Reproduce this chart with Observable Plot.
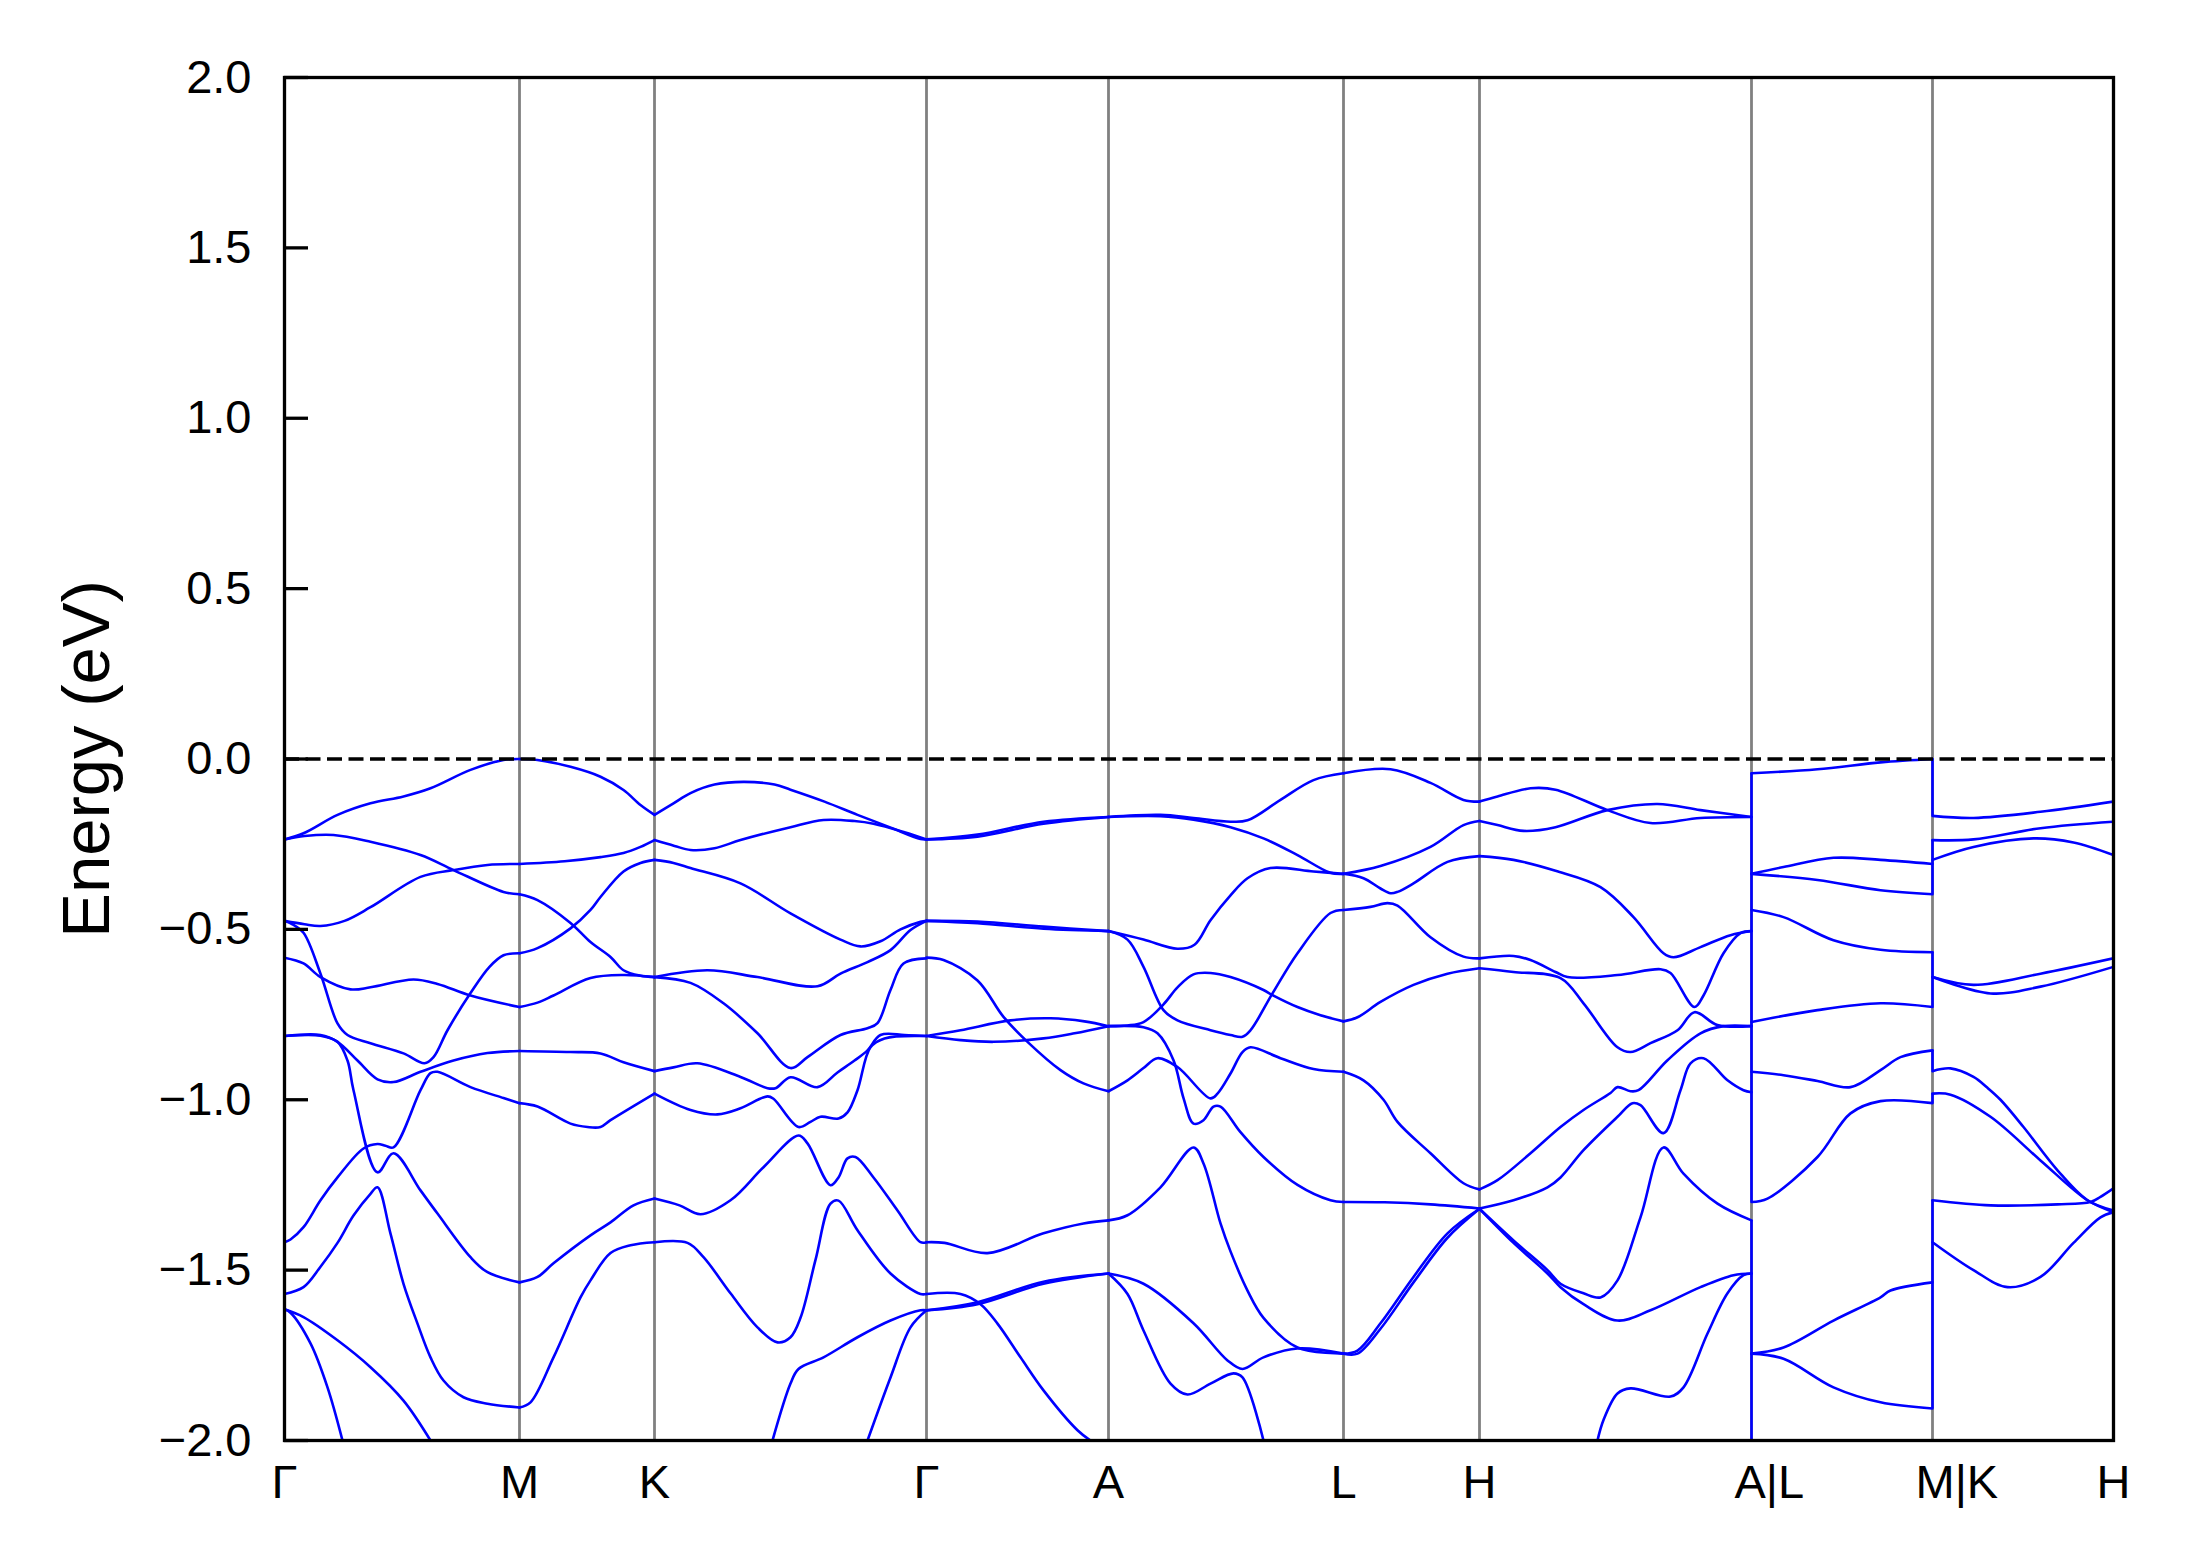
<!DOCTYPE html>
<html>
<head>
<meta charset="utf-8">
<script src="https://cdn.jsdelivr.net/npm/d3@7"></script>
<script src="https://cdn.jsdelivr.net/npm/@observablehq/plot@0.6"></script>
<style>
  html, body { margin: 0; padding: 0; background: #fff; }
  svg { display: block; }
</style>
</head>
<body>
<div id="chart"></div>
<script>
// High-symmetry k-path positions (path distance, arbitrary units) and labels
const kTicks  = [0, 235, 370, 642, 824, 1059, 1195, 1467, 1648, 1829];
const kLabels = ["Γ", "M", "K", "Γ", "A", "L", "H", "A|L", "M|K", "H"];
const yTicks  = [-2, -1.5, -1, -0.5, 0, 0.5, 1, 1.5, 2];
const fermiLevel = 0;

// Band pieces per path segment: each piece is a list of [k, energy (eV)]
const gammaM = [
  [[0,-0.236],[19,-0.218],[53,-0.164],[86,-0.13],[119,-0.11],[146,-0.086],[186,-0.032],[219,-0.003],[235,0]],
  [[0,-0.236],[20,-0.226],[49,-0.223],[86,-0.243],[136,-0.282],[169,-0.326],[219,-0.39],[235,-0.397]],
  [[0,-0.475],[20,-0.485],[36,-0.49],[60,-0.475],[86,-0.435],[136,-0.346],[169,-0.326],[203,-0.311],[235,-0.308]],
  [[0,-0.475],[8,-0.485],[19,-0.51],[36,-0.63],[53,-0.776],[63,-0.81],[86,-0.834],[119,-0.864],[140,-0.893],[149,-0.875],[163,-0.796],[186,-0.687],[205,-0.61],[219,-0.576],[235,-0.57]],
  [[0,-0.583],[19,-0.6],[36,-0.64],[66,-0.676],[86,-0.67],[129,-0.647],[153,-0.66],[186,-0.694],[235,-0.728]],
  [[0,-0.813],[36,-0.81],[53,-0.83],[73,-0.885],[93,-0.94],[109,-0.948],[136,-0.918],[169,-0.885],[203,-0.863],[235,-0.857]],
  [[0,-0.813],[36,-0.812],[53,-0.83],[63,-0.885],[69,-0.972],[93,-1.213],[109,-1.157],[136,-1.266],[153,-1.334],[186,-1.462],[203,-1.506],[235,-1.536]],
  [[0,-1.418],[6,-1.41],[19,-1.374],[36,-1.295],[53,-1.228],[79,-1.143],[93,-1.13],[101,-1.135],[109,-1.14],[136,-0.972],[146,-0.922],[153,-0.918],[186,-0.963],[219,-0.995],[235,-1.01]],
  [[0,-1.57],[19,-1.55],[36,-1.49],[53,-1.42],[69,-1.34],[86,-1.276],[93,-1.257],[106,-1.393],[119,-1.54],[133,-1.657],[146,-1.756],[159,-1.824],[179,-1.873],[203,-1.892],[235,-1.903]],
  [[0,-1.615],[19,-1.638],[53,-1.706],[86,-1.785],[119,-1.883],[146,-2.0]],
  [[0,-1.615],[6,-1.625],[26,-1.715],[43,-1.844],[58,-2.0]]
];
const mK = [
  [[235,0],[253,-0.003],[286,-0.023],[316,-0.052],[339,-0.091],[356,-0.135],[370,-0.164]],
  [[235,-0.308],[280,-0.3],[316,-0.288],[339,-0.276],[356,-0.258],[370,-0.238]],
  [[235,-0.397],[253,-0.414],[286,-0.481],[306,-0.537],[326,-0.581],[339,-0.62],[356,-0.636],[370,-0.64]],
  [[235,-0.57],[253,-0.555],[286,-0.497],[306,-0.443],[316,-0.405],[339,-0.33],[356,-0.305],[370,-0.296]],
  [[235,-0.728],[253,-0.715],[269,-0.694],[306,-0.643],[339,-0.634],[370,-0.64]],
  [[235,-0.857],[286,-0.86],[316,-0.864],[339,-0.89],[370,-0.916]],
  [[235,-1.01],[253,-1.02],[286,-1.07],[303,-1.08],[316,-1.08],[326,-1.06],[370,-0.982]],
  [[235,-1.536],[253,-1.52],[269,-1.48],[306,-1.398],[326,-1.36],[349,-1.31],[370,-1.29]],
  [[235,-1.903],[246,-1.888],[269,-1.756],[296,-1.58],[306,-1.53],[326,-1.45],[346,-1.427],[370,-1.418]]
];
const kGamma = [
  [[370,-0.164],[389,-0.13],[406,-0.1],[430,-0.075],[459,-0.067],[490,-0.075],[506,-0.09],[540,-0.125],[573,-0.164],[605,-0.2],[636,-0.235],[642,-0.236]],
  [[370,-0.238],[390,-0.255],[406,-0.267],[430,-0.262],[456,-0.238],[506,-0.2],[539,-0.179],[570,-0.182],[589,-0.19],[620,-0.215],[642,-0.236]],
  [[370,-0.296],[389,-0.305],[406,-0.32],[456,-0.365],[506,-0.453],[556,-0.53],[576,-0.55],[596,-0.535],[616,-0.5],[636,-0.478],[642,-0.475]],
  [[370,-0.64],[423,-0.62],[473,-0.64],[533,-0.667],[556,-0.63],[583,-0.596],[606,-0.561],[626,-0.502],[642,-0.475]],
  [[370,-0.64],[406,-0.657],[439,-0.717],[473,-0.805],[506,-0.907],[523,-0.875],[556,-0.81],[583,-0.79],[593,-0.775],[606,-0.678],[619,-0.6],[642,-0.585]],
  [[370,-0.916],[389,-0.905],[413,-0.893],[456,-0.933],[483,-0.966],[491,-0.966],[506,-0.934],[533,-0.963],[553,-0.92],[570,-0.885],[583,-0.855],[596,-0.81],[620,-0.81],[642,-0.813]],
  [[370,-0.982],[406,-1.03],[433,-1.043],[456,-1.025],[483,-0.99],[489,-0.997],[514,-1.08],[526,-1.065],[536,-1.05],[554,-1.055],[563,-1.037],[573,-0.972],[586,-0.846],[600,-0.82],[642,-0.813]],
  [[370,-1.29],[395,-1.31],[416,-1.336],[446,-1.295],[479,-1.198],[514,-1.105],[523,-1.128],[546,-1.251],[554,-1.228],[563,-1.172],[571,-1.168],[589,-1.228],[613,-1.325],[636,-1.418],[642,-1.418]],
  [[370,-1.418],[403,-1.42],[419,-1.462],[446,-1.568],[473,-1.668],[493,-1.712],[506,-1.697],[516,-1.64],[531,-1.47],[546,-1.305],[554,-1.296],[573,-1.383],[606,-1.51],[636,-1.57],[642,-1.57]],
  [[488,-2.0],[506,-1.833],[514,-1.79],[539,-1.756],[573,-1.697],[606,-1.648],[636,-1.618],[642,-1.618]],
  [[583,-2.0],[606,-1.815],[626,-1.668],[642,-1.618]]
];
const gammaA = [
  [[642,-0.236],[693,-0.228],[759,-0.19],[824,-0.17]],
  [[642,-0.236],[693,-0.222],[759,-0.184],[824,-0.17]],
  [[642,-0.475],[693,-0.477],[759,-0.492],[824,-0.505]],
  [[642,-0.475],[693,-0.482],[759,-0.498],[824,-0.505]],
  [[642,-0.583],[659,-0.59],[693,-0.65],[719,-0.757],[743,-0.83],[776,-0.913],[799,-0.952],[824,-0.975]],
  [[642,-0.813],[676,-0.796],[726,-0.767],[766,-0.761],[800,-0.77],[824,-0.784]],
  [[642,-0.813],[676,-0.825],[709,-0.83],[759,-0.82],[790,-0.805],[824,-0.784]],
  [[642,-1.418],[660,-1.42],[703,-1.45],[759,-1.392],[799,-1.363],[824,-1.354]],
  [[642,-1.57],[676,-1.57],[696,-1.6],[713,-1.657],[736,-1.756],[759,-1.853],[793,-1.97],[806,-2.0]],
  [[642,-1.618],[693,-1.6],[759,-1.54],[824,-1.51]],
  [[642,-1.618],[693,-1.594],[759,-1.534],[824,-1.51]]
];
const aL = [
  [[824,-0.17],[876,-0.164],[909,-0.173],[946,-0.184],[963,-0.18],[996,-0.12],[1029,-0.062],[1059,-0.042]],
  [[824,-0.17],[876,-0.168],[909,-0.178],[946,-0.2],[979,-0.233],[1013,-0.282],[1046,-0.334],[1059,-0.337]],
  [[824,-0.505],[859,-0.53],[893,-0.557],[910,-0.545],[926,-0.473],[946,-0.4],[963,-0.35],[986,-0.32],[1029,-0.33],[1059,-0.337]],
  [[824,-0.505],[843,-0.53],[859,-0.61],[879,-0.737],[893,-0.767],[926,-0.796],[946,-0.81],[958,-0.815],[966,-0.796],[988,-0.688],[1013,-0.57],[1046,-0.452],[1059,-0.443]],
  [[824,-0.784],[843,-0.782],[859,-0.772],[879,-0.72],[893,-0.67],[909,-0.632],[926,-0.628],[946,-0.64],[979,-0.678],[988,-0.693],[1013,-0.728],[1036,-0.752],[1059,-0.77]],
  [[824,-0.784],[859,-0.787],[873,-0.805],[889,-0.884],[899,-0.995],[909,-1.07],[919,-1.06],[929,-1.02],[936,-1.02],[956,-1.095],[979,-1.168],[1013,-1.25],[1046,-1.295],[1059,-1.3]],
  [[824,-0.975],[843,-0.943],[859,-0.907],[873,-0.878],[893,-0.904],[926,-0.996],[933,-0.982],[946,-0.923],[958,-0.86],[966,-0.846],[996,-0.878],[1029,-0.91],[1059,-0.918]],
  [[824,-1.354],[843,-1.339],[876,-1.257],[909,-1.14],[919,-1.187],[936,-1.363],[946,-1.445],[963,-1.56],[979,-1.64],[1013,-1.727],[1059,-1.745]],
  [[824,-1.51],[859,-1.54],[909,-1.656],[943,-1.765],[958,-1.79],[979,-1.756],[1013,-1.73],[1059,-1.745]],
  [[824,-1.51],[843,-1.57],[859,-1.677],[886,-1.833],[903,-1.865],[926,-1.833],[949,-1.803],[958,-1.815],[979,-2.0]]
];
const lH = [
  [[1059,-0.042],[1106,-0.03],[1146,-0.07],[1179,-0.12],[1195,-0.125]],
  [[1059,-0.337],[1096,-0.314],[1146,-0.258],[1179,-0.194],[1195,-0.182]],
  [[1059,-0.337],[1079,-0.35],[1096,-0.38],[1106,-0.394],[1113,-0.39],[1129,-0.365],[1163,-0.302],[1195,-0.285]],
  [[1059,-0.443],[1086,-0.434],[1103,-0.423],[1113,-0.43],[1146,-0.523],[1179,-0.58],[1195,-0.585]],
  [[1059,-0.77],[1073,-0.758],[1096,-0.713],[1129,-0.663],[1163,-0.63],[1195,-0.614]],
  [[1059,-0.918],[1079,-0.943],[1099,-1.0],[1113,-1.065],[1146,-1.157],[1179,-1.245],[1195,-1.263]],
  [[1059,-1.3],[1100,-1.301],[1146,-1.307],[1195,-1.319]],
  [[1059,-1.745],[1073,-1.736],[1096,-1.656],[1129,-1.52],[1163,-1.392],[1195,-1.32]],
  [[1059,-1.745],[1073,-1.745],[1096,-1.672],[1129,-1.536],[1163,-1.405],[1195,-1.32]]
];
const hA = [
  [[1195,-0.125],[1213,-0.11],[1246,-0.086],[1271,-0.09],[1323,-0.15],[1366,-0.188],[1416,-0.173],[1467,-0.17]],
  [[1195,-0.182],[1213,-0.194],[1239,-0.211],[1271,-0.2],[1323,-0.15],[1373,-0.132],[1416,-0.15],[1467,-0.17]],
  [[1195,-0.285],[1229,-0.296],[1271,-0.328],[1316,-0.376],[1349,-0.464],[1379,-0.57],[1389,-0.582],[1416,-0.552],[1446,-0.517],[1467,-0.505]],
  [[1195,-0.585],[1229,-0.578],[1246,-0.59],[1271,-0.625],[1283,-0.64],[1333,-0.634],[1376,-0.617],[1386,-0.628],[1410,-0.728],[1419,-0.694],[1439,-0.57],[1456,-0.511],[1467,-0.505]],
  [[1195,-0.614],[1229,-0.625],[1276,-0.643],[1299,-0.717],[1333,-0.846],[1346,-0.86],[1366,-0.834],[1393,-0.796],[1410,-0.743],[1433,-0.781],[1467,-0.784]],
  [[1195,-1.263],[1213,-1.236],[1246,-1.157],[1276,-1.08],[1299,-1.03],[1326,-0.98],[1333,-0.963],[1346,-0.975],[1354,-0.972],[1383,-0.884],[1416,-0.805],[1439,-0.784],[1467,-0.784]],
  [[1195,-1.319],[1229,-1.295],[1263,-1.257],[1276,-1.228],[1299,-1.148],[1333,-1.05],[1348,-1.01],[1356,-1.016],[1379,-1.098],[1396,-0.972],[1406,-0.893],[1419,-0.878],[1443,-0.943],[1459,-0.972],[1467,-0.978]],
  [[1195,-1.32],[1229,-1.413],[1263,-1.5],[1276,-1.54],[1299,-1.568],[1316,-1.58],[1333,-1.53],[1356,-1.345],[1379,-1.14],[1399,-1.217],[1433,-1.305],[1467,-1.354]],
  [[1195,-1.32],[1229,-1.42],[1263,-1.51],[1276,-1.55],[1299,-1.6],[1333,-1.648],[1366,-1.618],[1416,-1.55],[1449,-1.515],[1467,-1.51]],
  [[1313,-2.0],[1319,-1.94],[1333,-1.862],[1346,-1.847],[1386,-1.871],[1399,-1.844],[1423,-1.686],[1443,-1.568],[1459,-1.515],[1467,-1.51]]
];
const lM = [
  [[1467,-0.042],[1533,-0.03],[1596,-0.01],[1648,0]],
  [[1467,-0.337],[1499,-0.317],[1549,-0.29],[1596,-0.296],[1648,-0.308]],
  [[1467,-0.337],[1533,-0.355],[1596,-0.385],[1648,-0.397]],
  [[1467,-0.443],[1499,-0.464],[1549,-0.532],[1596,-0.56],[1648,-0.567]],
  [[1467,-0.772],[1533,-0.737],[1596,-0.717],[1648,-0.728]],
  [[1467,-0.918],[1499,-0.928],[1533,-0.945],[1566,-0.963],[1596,-0.913],[1616,-0.875],[1648,-0.855]],
  [[1467,-1.3],[1483,-1.29],[1533,-1.168],[1566,-1.04],[1596,-1.004],[1648,-1.01]],
  [[1467,-1.745],[1499,-1.727],[1549,-1.648],[1596,-1.58],[1606,-1.56],[1648,-1.536]],
  [[1467,-1.745],[1499,-1.76],[1549,-1.844],[1596,-1.888],[1648,-1.906]]
];
const kH = [
  [[1648,-0.167],[1689,-0.173],[1756,-0.155],[1829,-0.125]],
  [[1648,-0.238],[1689,-0.236],[1756,-0.203],[1829,-0.184]],
  [[1648,-0.296],[1689,-0.258],[1749,-0.233],[1789,-0.245],[1829,-0.282]],
  [[1648,-0.64],[1689,-0.663],[1756,-0.63],[1829,-0.585]],
  [[1648,-0.64],[1706,-0.688],[1756,-0.668],[1829,-0.61]],
  [[1648,-0.916],[1666,-0.908],[1689,-0.933],[1703,-0.965],[1716,-1.0],[1739,-1.08],[1773,-1.207],[1803,-1.295],[1829,-1.325]],
  [[1648,-0.982],[1666,-0.985],[1706,-1.05],[1756,-1.178],[1803,-1.295],[1829,-1.33]],
  [[1648,-1.295],[1706,-1.31],[1773,-1.307],[1806,-1.3],[1816,-1.285],[1829,-1.26]],
  [[1648,-1.418],[1689,-1.5],[1723,-1.55],[1756,-1.52],[1789,-1.42],[1816,-1.345],[1829,-1.33]]
];

// Vertical band jumps at the discontinuities A|L and M|K
const jumpK      = [1467, 1467, 1648, 1648, 1648, 1648, 1648, 1648];
const jumpTop    = [-0.042, -1.354, 0, -0.238, -0.567, -0.855, -0.982, -1.295];
const jumpBottom = [-1.3, -2.0, -0.167, -0.397, -0.728, -0.916, -1.01, -1.906];

// ---- build tables for the library ----
const segments = [gammaM, mK, kGamma, gammaA, aL, lH, hA, lM, kH];
const rows = [];
let id = 0;
for (const seg of segments) {
  for (const piece of seg) {
    for (const [k, e] of piece) rows.push({k, e, id});
    id++;
  }
}
const jumps = jumpK.map((k, i) => ({k, e1: jumpTop[i], e2: jumpBottom[i]}));
const labelOf = new Map(kTicks.map((k, i) => [k, kLabels[i]]));
const singleTicks = kTicks.filter((k, i) => !kLabels[i].includes("|"));
const splitTicks  = kTicks.filter((k, i) => kLabels[i].includes("|"));
const fmt = d3.format(".1f");

const blue = "#0000ff";
const chart = Plot.plot({
  width: 2191,
  height: 1567,
  marginLeft: 284,
  marginRight: 78,
  marginTop: 77,
  marginBottom: 127,
  style: {fontFamily: "'Liberation Sans', Arial, sans-serif", fontSize: "47px", background: "#fff", color: "#000"},
  x: {domain: [kTicks[0], kTicks[kTicks.length - 1]]},
  y: {domain: [-2, 2]},
  marks: [
    Plot.ruleX(kTicks.slice(1, -1), {stroke: "#808080", strokeWidth: 2.8}),
    Plot.line(rows, {x: "k", y: "e", z: "id", stroke: blue, strokeWidth: 2.6, curve: "catmull-rom", clip: true}),
    Plot.ruleX(jumps, {x: "k", y1: "e1", y2: "e2", stroke: blue, strokeWidth: 2.6, clip: true}),
    Plot.ruleY([fermiLevel], {stroke: "#000", strokeWidth: 3.6, strokeDasharray: "15,6.5"}),
    Plot.axisY(yTicks, {anchor: "left", tickSize: -24, tickPadding: 57, strokeWidth: 3.3, tickFormat: fmt, fontSize: 47, label: null}),
    Plot.axisX(singleTicks, {anchor: "bottom", tickSize: 0, tickPadding: 24, tickFormat: d => labelOf.get(d), fontSize: 47, label: null}),
    Plot.axisX(splitTicks, {anchor: "bottom", tickSize: 0, tickPadding: 24, tickFormat: d => labelOf.get(d), fontSize: 47, textAnchor: "start", dx: -17, label: null}),
    Plot.text(["Energy (eV)"], {frameAnchor: "left", rotate: -90, textAnchor: "middle", lineAnchor: "middle", dx: -197, fontSize: 67, fill: "#000"}),
    Plot.frame({stroke: "#000", strokeWidth: 3.3})
  ]
});
document.getElementById("chart").appendChild(chart);
</script>
</body>
</html>
